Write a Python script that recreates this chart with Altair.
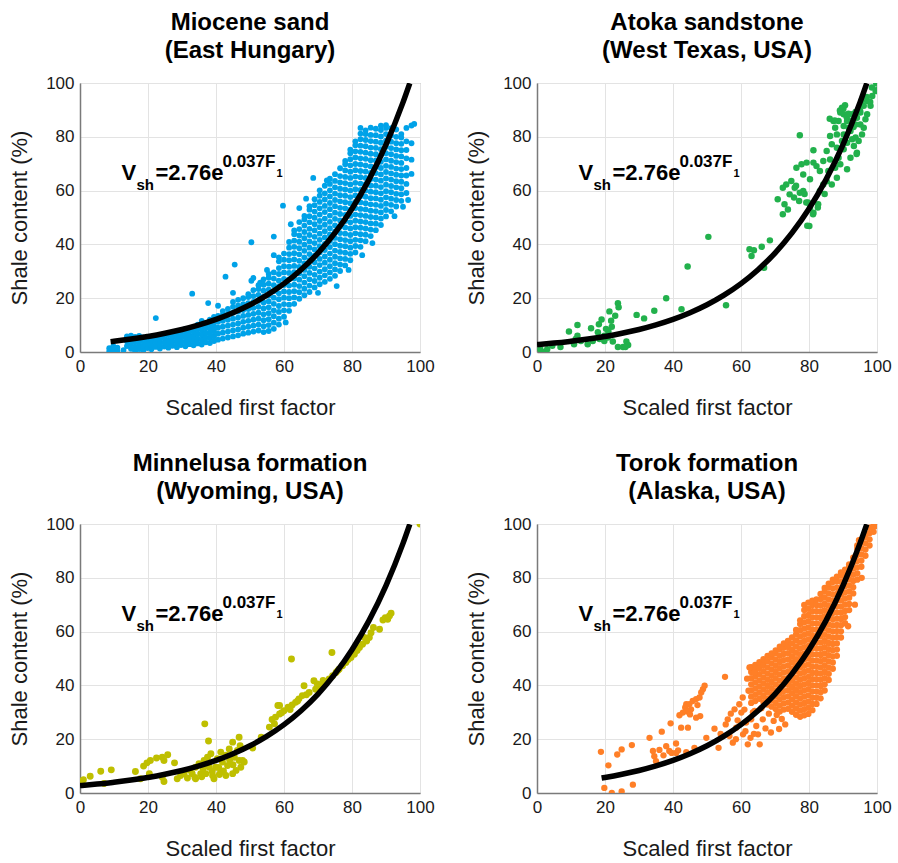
import altair as alt
import pandas as pd

FONT = "Liberation Sans"

# ---------------- data ----------------
# Fitted curve V = 2.76 exp(0.037 F) as drawn (F, V)
CURVE_F = [0, 5, 9, 10, 15, 19, 20, 25, 30, 35, 40, 45, 50, 55, 60, 65, 70, 75, 80, 85, 90, 95, 97]
CURVE_V = [2.76, 3.32, 3.85, 4.00, 4.81, 5.57, 5.78, 6.96, 8.37, 10.08, 12.12, 14.59, 17.55,
           21.12, 25.41, 30.58, 36.79, 44.27, 53.26, 64.09, 77.11, 92.78, 99.91]

# Miocene sand (East Hungary): columns of points (F, [V, ...])
MIOCENE_COLS = [
    (8.6, [0.2, 1.4]), (9.8, [0.8, 2.2]), (11.0, [1.6, 0.4]), (12.8, [0.7]),
    (13.8, [2.2, 4.0, 5.8]), (15.0, [1.2, 3.1, 5.0, 6.1]), (16.2, [0.3, 2.0, 3.9, 5.6]),
    (17.4, [1.1, 2.8, 4.6, 6.0]), (18.6, [0.6, 2.3, 4.0, 5.4]), (19.8, [1.5, 3.2, 4.9]),
    (21.0, [1.0, 2.6, 4.2, 5.7]), (22.3, [12.6, 1.9, 3.5, 5.1]), (23.5, [1.3, 2.9, 4.6, 6.2]),
    (24.8, [2.0, 3.6, 5.3]), (26.0, [1.6, 3.0, 4.5, 6.4]), (27.2, [2.3, 3.9, 5.6, 7.0]),
    (28.5, [1.8, 3.4, 5.0, 6.6]), (29.7, [2.6, 4.3, 6.0, 7.6]), (31.0, [2.1, 3.8, 5.5, 7.2, 8.6]),
    (32.2, [2.9, 4.6, 6.3, 8.0]), (33.0, [21.7]), (33.4, [2.5, 4.2, 5.9, 7.6, 9.2]),
    (34.6, [3.2, 5.0, 6.8, 8.6, 10.2]), (35.8, [2.8, 4.6, 6.4, 8.2, 9.8, 11.6]),
    (37.0, [3.6, 5.4, 7.2, 9.0, 10.6]), (37.7, [18.2]), (38.2, [3.3, 5.1, 6.9, 8.7, 10.5, 12.0]),
    (39.4, [4.1, 5.9, 7.7, 9.5, 11.3, 13.0]),
    (40.6, [4.6, 6.8, 9.0, 11.2, 13.4, 17.2]), (42.0, [5.0, 7.2, 9.4, 11.6, 13.8, 15.2]),
    (42.8, [28.0]), (43.5, [5.4, 7.6, 9.8, 12.0, 14.2, 16.0]),
    (45.0, [5.8, 8.0, 10.2, 12.4, 14.6, 16.8, 18.6, 22.0]), (45.5, [32.5]),
    (46.5, [6.2, 8.4, 10.6, 12.8, 15.0, 17.2, 19.4]),
    (48.0, [6.8, 9.0, 11.2, 13.4, 15.6, 17.8, 20.0]),
    (49.5, [7.2, 9.4, 11.6, 13.8, 16.0, 18.2, 20.4, 21.5]), (50.4, [40.8, 26.5]),
    (51.0, [7.6, 9.8, 12.0, 14.2, 16.4, 18.6, 20.8, 23.0, 27.5]),
    (52.5, [8.0, 10.2, 12.4, 14.6, 16.8, 19.0, 21.2, 23.4, 24.8]),
    (53.0, [25.8]),
    (54.0, [7.4, 9.6, 11.8, 14.0, 16.2, 18.4, 20.6, 22.8, 25.0, 27.0]),
    (55.0, [30.5]),
    (55.5, [7.8, 10.0, 12.2, 14.4, 16.6, 18.8, 21.0, 23.2, 25.4, 27.6, 29.0]),
    (57.0, [8.6, 10.9, 13.3, 15.5, 17.9, 20.2, 22.6, 24.8, 27.3, 29.6, 36.0, 42.9]),
    (58.5, [10.2, 12.4, 14.9, 17.1, 19.6, 21.8, 24.3, 26.5, 29.0, 31.2, 33.7, 35.2]),
    (59.7, [54.4]),
    (60.0, [13.1, 15.5, 17.8, 20.2, 22.5, 24.9, 27.2, 29.6, 31.9, 34.3, 36.6]),
    (60.5, [11.0]),
    (61.5, [15.3, 17.6, 20.0, 22.3, 24.7, 27.0, 29.4, 31.7, 34.1, 36.4, 38.8, 40.9]),
    (62.0, [47.5]),
    (63.0, [17.9, 20.3, 22.6, 25.0, 27.3, 29.7, 32.0, 34.4, 36.7, 39.1, 41.4, 43.8, 45.2]),
    (64.5, [19.8, 22.2, 24.5, 26.9, 29.2, 31.6, 33.9, 36.3, 38.6, 41.0, 43.3, 45.7, 48.3, 53.5]),
    (66.0, [21.1, 23.5, 25.8, 28.2, 30.5, 32.9, 35.2, 37.6, 39.9, 42.3, 44.6, 47.0, 49.3, 50.6]),
    (66.5, [57.0]),
    (67.5, [22.3, 24.7, 27.0, 29.4, 31.7, 34.1, 36.4, 38.8, 41.1, 43.5, 45.8, 48.2, 50.5, 52.9, 54.2]),
    (68.6, [64.7]),
    (69.0, [24.0, 26.4, 28.7, 31.1, 33.4, 35.8, 38.1, 40.5, 42.8, 45.2, 47.5, 49.9, 52.2, 54.6, 56.8]),
    (70.0, [22.0]),
    (70.5, [25.2, 27.6, 29.9, 32.3, 34.6, 37.0, 39.3, 41.7, 44.0, 46.4, 48.7, 51.1, 53.4, 55.8,
            58.1, 60.1]),
    (72.0, [26.1, 28.5, 30.8, 33.2, 35.5, 37.9, 40.2, 42.6, 44.9, 47.3, 49.6, 52.0, 54.3, 56.7,
            59.0, 61.8]),
    (72.6, [63.8]),
    (73.5, [27.2, 29.6, 31.9, 34.3, 36.6, 39.0, 41.3, 43.7, 46.0, 48.4, 50.7, 53.1, 55.4, 57.8,
            60.1, 62.5, 64.4]),
    (75.0, [28.3, 30.7, 33.0, 35.4, 37.7, 40.1, 42.4, 44.8, 47.1, 49.5, 51.8, 54.2, 56.5, 58.9,
            61.2, 63.6, 66.1]),
    (75.5, [24.5]),
    (76.5, [30.1, 32.5, 34.8, 37.2, 39.5, 41.9, 44.2, 46.6, 48.9, 51.3, 53.6, 56.0, 58.3, 60.7,
            63.0, 65.4, 68.3]),
    (78.0, [32.2, 34.6, 36.9, 39.3, 41.6, 44.0, 46.3, 48.7, 51.0, 53.4, 55.7, 58.1, 60.4, 62.8,
            65.1, 67.5, 69.8, 71.0]),
    (79.0, [30.5]),
    (79.5, [34.1, 36.5, 38.8, 41.2, 43.5, 45.9, 48.2, 50.6, 52.9, 55.3, 57.6, 60.0, 62.3, 64.7,
            67.0, 69.4, 71.7, 73.9, 75.2]),
    (81.0, [37.0, 39.4, 41.7, 44.1, 46.4, 48.8, 51.1, 53.5, 55.8, 58.2, 60.5, 62.9, 65.2, 67.6,
            69.9, 72.3, 74.6, 76.9, 78.3]),
    (82.5, [39.1, 41.5, 43.8, 46.2, 48.5, 50.9, 53.2, 55.6, 57.9, 60.3, 62.6, 65.0, 67.3, 69.7,
            72.0, 74.4, 76.7, 79.1, 81.2, 83.3]),
    (83.0, [36.0]),
    (84.0, [41.2, 43.6, 45.9, 48.3, 50.6, 53.0, 55.3, 57.7, 60.0, 62.4, 64.7, 67.1, 69.4, 71.8,
            74.1, 76.5, 78.8, 81.0, 82.4]),
    (85.5, [43.1, 45.5, 47.8, 50.2, 52.5, 54.9, 57.2, 59.6, 61.9, 64.3, 66.6, 69.0, 71.3, 73.7,
            76.0, 78.4, 80.7, 83.4]),
    (86.0, [40.5]),
    (87.0, [45.3, 47.7, 50.0, 52.4, 54.7, 57.1, 59.4, 61.8, 64.1, 66.5, 68.8, 71.2, 73.5, 75.9,
            78.2, 80.6, 83.0]),
    (88.5, [47.2, 49.6, 51.9, 54.3, 56.6, 59.0, 61.3, 63.7, 66.0, 68.4, 70.7, 73.1, 75.4, 77.8,
            80.1, 82.5, 84.1]),
    (90.0, [50.4, 52.8, 55.1, 57.5, 59.8, 62.2, 64.5, 66.9, 69.2, 71.6, 73.9, 76.3, 78.6, 81.0,
            83.3, 84.3]),
    (91.5, [52.3, 54.7, 57.0, 59.4, 61.7, 64.1, 66.4, 68.8, 71.1, 73.5, 75.8, 78.2, 80.5, 83.2]),
    (92.5, [50.5]),
    (93.0, [54.1, 56.5, 58.8, 61.2, 63.5, 65.9, 68.2, 70.6, 72.9, 75.3, 77.6, 80.0, 82.7]),
    (94.5, [56.2, 58.6, 60.9, 63.3, 65.6, 68.0, 70.3, 72.7, 75.0, 77.4, 79.7, 81.0]),
    (95.0, [54.0]),
    (96.0, [59.1, 62.5, 65.6, 68.4, 72.0, 75.1, 78.3, 83.3]), (96.5, [56.5]),
    (97.5, [66.2, 71.5, 77.6, 84.2]), (98.3, [84.8]),
]

# Atoka sandstone (West Texas, USA): individual points
ATOKA_F = [1.0, 3.0, 1.5, 4.5, 6.9, 9.4, 11.9, 11.9, 10.9, 15.9, 18.2, 19.0, 21.3, 21.8, 23.8, 24.0,
           23.0, 22.0, 21.0, 19.8, 18.4, 19.8, 22.3, 23.8, 25.3, 26.3, 26.8, 26.0, 14.9, 16.4,
           12.9, 11.4, 17.9, 20.3, 20.8, 29.3, 31.5, 34.5, 38.0, 42.5, 44.3, 50.4, 55.6,
           62.5, 63.1, 63.8, 66.1, 68.5, 66.8,
           77.3, 81.3, 89.7, 90.2, 88.7, 87.2, 87.7, 86.2, 86.7, 90.2, 92.2, 93.2, 94.1, 95.1, 97.1,
           97.1, 98.1, 99.6, 98.6, 96.1, 95.6, 92.2, 89.2, 91.2, 88.2, 86.7, 85.2, 83.2, 84.2, 81.3,
           79.3, 77.8, 76.3, 78.3, 80.3, 82.2, 74.8, 73.3, 75.8, 77.3, 74.3, 72.3, 70.8, 75.6, 77.1,
           78.3, 72.8, 73.8, 72.3, 80.3, 81.3, 80.1, 83.2, 82.7, 84.2, 85.7, 87.7, 88.7, 90.2, 91.2,
           92.7, 93.7, 94.6, 94.1, 95.1, 92.7, 91.2, 89.2, 88.2, 85.2, 86.2, 88.2, 89.7, 91.7, 90.2,
           96.1, 96.6, 93.7, 99.8, 99.8, 98.5, 94.0, 93.1, 93.7, 90.6, 91.6, 86.1, 87.6, 89.1, 90.1,
           91.1, 92.6, 95.0, 95.5, 97.0, 98.0, 79.5, 81.2, 82.6, 84.6, 79.7, 76.2, 78.7, 79.2]
ATOKA_V = [1.0, 1.0, 0.0, 2.3, 1.9, 7.6, 10.0, 6.0, 2.9, 8.8, 10.3, 12.1, 15.1, 11.6, 18.1, 16.6,
           13.5, 9.4, 7.6, 6.0, 4.8, 4.1, 3.9, 1.9, 1.9, 3.9, 2.6, 1.9, 2.9, 4.1,
           4.1, 4.8, 7.3, 8.6, 5.4, 13.8, 12.5, 15.3, 20.0, 15.9, 31.8, 42.8, 17.4,
           38.2, 35.7, 37.8, 39.1, 41.5, 31.3,
           80.6, 75.0, 90.8, 88.4, 85.9, 85.9, 83.4, 80.3, 77.2, 80.9, 82.2, 76.6, 74.1, 84.6, 88.4,
           93.3, 91.5, 97.0, 95.2, 91.5, 80.9, 72.2, 69.8, 67.9, 64.8, 62.3, 63.5, 67.3, 71.0, 70.4,
           70.4, 69.8, 68.5, 66.0, 64.2, 69.1, 63.6, 62.3, 61.1, 59.2, 58.6, 61.1, 56.8, 57.4, 56.1,
           59.9, 54.9, 53.0, 51.2, 53.6, 51.8, 46.8, 59.9, 54.9, 62.3, 67.3, 68.5, 72.2, 75.4, 77.8,
           79.1, 79.7, 78.4, 87.1, 89.0, 88.4, 85.9, 89.0, 80.9, 74.7, 71.6, 75.9, 78.4, 83.4, 84.0,
           83.4, 86.5, 84.6, 99.8, 97.3, 98.3, 73.6, 83.6, 89.2, 91.7, 88.6, 86.7, 86.1, 89.8, 90.4,
           87.3, 86.1, 89.8, 93.5, 94.8, 92.9, 46.9, 51.2, 53.7, 58.7, 55.6, 61.8, 58.7, 55.6]

# Minnelusa formation (Wyoming, USA): individual points
MINNE_F = [0.2, 1.0, 3.0, 6.1, 9.2, 7.1, 16.3, 18.7, 19.7, 20.7, 22.5, 24.2, 25.8, 24.7, 27.8, 20.4,
           17.8, 24.7, 24.2, 28.6, 29.6, 31.6, 33.0, 34.0, 35.0, 35.5, 36.7, 37.8, 36.5, 37.5, 38.5,
           38.0, 37.0, 39.0, 39.9, 40.4, 41.4, 41.9, 41.4, 42.9, 43.4, 43.9, 44.9, 45.4, 45.9, 46.8,
           47.1, 46.8, 47.8, 47.3, 48.3, 44.9, 39.4, 34.0, 30.6, 32.3, 36.2, 40.8, 42.2, 44.0, 45.0,
           33.8, 38.9, 43.0, 46.3, 35.8, 41.0,
           50.8, 53.3, 55.7, 57.2, 58.2, 56.5, 57.5, 58.7, 58.7, 60.0, 61.2, 62.4, 63.4, 64.4, 65.4,
           65.9, 67.4, 68.8, 69.3, 70.8, 72.3, 73.3, 74.3, 75.3, 76.2, 77.2, 78.2, 79.7, 80.7, 82.2,
           83.1, 83.6, 85.1, 85.6, 86.3, 88.1, 89.1, 89.8, 90.5, 91.0, 91.5, 62.2, 74.1, 100.0,
           59.3, 61.8, 64.0, 66.6, 69.8, 71.5, 75.8, 78.9, 81.5, 84.3]
MINNE_V = [4.3, 4.9, 6.2, 8.1, 8.6, 3.5, 8.0, 10.0, 11.2, 12.1, 13.0, 13.3, 14.2, 12.1, 11.2, 7.2,
           5.3, 4.3, 5.9, 5.3, 6.5, 5.6, 7.2, 9.6, 10.9, 7.2, 25.7, 19.3, 12.1, 13.3, 14.6,
           9.6, 7.2, 6.5, 9.6, 12.7, 15.2, 11.5, 7.8, 6.5, 10.2, 16.4, 18.9, 13.3, 8.4, 20.7,
           17.6, 12.1, 12.1, 9.6, 11.5, 7.2, 5.3, 5.3, 7.2, 8.5, 9.0, 9.5, 8.2, 12.3, 10.5,
           5.8, 8.0, 14.0, 15.8, 6.0, 6.9,
           16.7, 20.7, 24.5, 25.7, 32.5, 27.3, 28.2, 32.5, 29.4, 30.6, 31.9, 32.7, 33.7, 35.0, 36.2,
           39.9, 37.4, 41.7, 38.6, 39.9, 41.1, 42.4, 43.6, 44.8, 46.0, 47.3, 48.5, 50.4, 51.6, 54.1,
           55.3, 57.8, 57.8, 59.6, 61.5, 60.9, 64.3, 65.2, 64.6, 65.8, 66.8, 49.8, 52.2, 100.0,
           29.8, 31.0, 34.2, 36.5, 40.5, 41.8, 45.5, 49.6, 53.0, 56.5]

# Torok formation (Alaska, USA): dense columns (F, [V, ...]) plus scattered points
TOROK_COLS = [
    (63.0, [33.5, 35.8, 38.1, 40.4, 42.7, 45.0, 46.8]),
    (64.2, [34.2, 36.5, 38.8, 41.1, 43.4, 45.7, 47.6]),
    (65.4, [35.0, 37.3, 39.6, 41.9, 44.2, 46.5, 48.6]),
    (66.6, [33.8, 36.1, 38.4, 40.7, 43.0, 45.3, 47.6, 49.8]),
    (67.8, [32.9, 35.2, 37.5, 39.8, 42.1, 44.4, 46.7, 49.0, 51.0]),
    (69.0, [32.1, 34.4, 36.7, 39.0, 41.3, 43.6, 45.9, 48.2, 50.5, 51.9]),
    (70.2, [31.2, 33.5, 35.8, 38.1, 40.4, 42.7, 45.0, 47.3, 49.6, 51.9, 53.0]),
    (71.4, [30.3, 32.6, 34.9, 37.2, 39.5, 41.8, 44.1, 46.4, 48.7, 51.0, 53.3, 54.4]),
    (72.6, [31.0, 33.3, 35.6, 37.9, 40.2, 42.5, 44.8, 47.1, 49.4, 51.7, 54.0, 55.6]),
    (73.8, [31.3, 33.6, 35.9, 38.2, 40.5, 42.8, 45.1, 47.4, 49.7, 52.0, 54.3, 56.5]),
    (75.0, [30.2, 32.5, 34.8, 37.1, 39.4, 41.7, 44.0, 46.3, 48.6, 50.9, 53.2, 55.5, 57.8]),
    (76.2, [29.1, 31.4, 33.7, 36.0, 38.3, 40.6, 42.9, 45.2, 47.5, 49.8, 52.1, 54.4, 56.7, 59.0, 60.6]),
    (77.4, [28.3, 30.6, 32.9, 35.2, 37.5, 39.8, 42.1, 44.4, 46.7, 49.0, 51.3, 53.6, 55.9, 58.2,
            60.5, 62.8, 64.2]),
    (78.6, [28.9, 31.2, 33.5, 35.8, 38.1, 40.4, 42.7, 45.0, 47.3, 49.6, 51.9, 54.2, 56.5, 58.8,
            61.1, 63.4, 65.7, 68.0, 69.9]),
    (79.8, [29.4, 31.7, 34.0, 36.3, 38.6, 40.9, 43.2, 45.5, 47.8, 50.1, 52.4, 54.7, 57.0, 59.3,
            61.6, 63.9, 66.2, 68.5, 70.8]),
    (81.0, [30.8, 33.1, 35.4, 37.7, 40.0, 42.3, 44.6, 46.9, 49.2, 51.5, 53.8, 56.1, 58.4, 60.7,
            63.0, 65.3, 67.6, 69.9, 71.5]),
    (82.2, [33.1, 35.4, 37.7, 40.0, 42.3, 44.6, 46.9, 49.2, 51.5, 53.8, 56.1, 58.4, 60.7, 63.0,
            65.3, 67.6, 69.9, 72.0]),
    (83.4, [35.2, 37.5, 39.8, 42.1, 44.4, 46.7, 49.0, 51.3, 53.6, 55.9, 58.2, 60.5, 62.8, 65.1,
            67.4, 69.7, 72.0, 74.0]),
    (84.6, [38.1, 40.4, 42.7, 45.0, 47.3, 49.6, 51.9, 54.2, 56.5, 58.8, 61.1, 63.4, 65.7, 68.0,
            70.3, 72.6, 74.9, 76.2]),
    (85.8, [42.0, 44.3, 46.6, 48.9, 51.2, 53.5, 55.8, 58.1, 60.4, 62.7, 65.0, 67.3, 69.6, 71.9,
            74.2, 76.5, 77.8]),
    (87.0, [46.2, 48.5, 50.8, 53.1, 55.4, 57.7, 60.0, 62.3, 64.6, 66.9, 69.2, 71.5, 73.8, 76.1,
            78.4, 79.3]),
    (88.2, [51.0, 53.3, 55.6, 57.9, 60.2, 62.5, 64.8, 67.1, 69.4, 71.7, 74.0, 76.3, 78.6, 80.4]),
    (89.4, [57.8, 60.1, 62.4, 64.7, 67.0, 69.3, 71.6, 73.9, 76.2, 78.5, 80.8, 82.0]),
    (90.6, [63.1, 65.4, 67.7, 70.0, 72.3, 74.6, 76.9, 79.2, 81.5, 83.0]),
    (91.8, [68.0, 70.3, 72.6, 74.9, 77.2, 79.5, 81.8, 84.1, 85.0]),
    (93.0, [74.2, 76.5, 78.8, 81.1, 83.4, 85.7, 87.5]),
    (94.2, [79.3, 81.6, 83.9, 86.2, 88.5, 90.8, 92.0]),
    (95.4, [84.1, 86.4, 88.7, 91.0, 93.3, 94.2]),
    (96.6, [88.2, 90.5, 92.8, 95.1, 96.2]),
    (97.8, [92.0, 94.3, 96.6, 98.6]), (99.0, [97.1, 99.0, 99.8]), (99.8, [99.2]),
]
TOROK_F = [18.8, 21.0, 19.8, 22.0, 23.6, 24.9, 24.9, 27.9, 28.2,
           33.1, 34.1, 34.5, 35.0, 36.7, 38.0, 38.9, 39.3, 39.6, 40.9, 40.9, 41.9, 42.4, 43.6, 43.9,
           44.8, 45.3, 45.8, 46.8, 46.8, 47.8, 48.3, 48.8, 49.3, 44.4, 46.3, 49.8, 52.2, 53.4, 55.3,
           44.2, 45.0, 47.2, 48.0, 42.9, 36.0, 37.2, 41.5, 43.9,
           56.1, 56.6, 57.6, 58.1, 58.6, 60.1, 60.6, 61.5, 62.0, 62.5, 63.0, 62.8, 64.0, 64.5, 65.0,
           65.5, 66.4, 67.2, 68.2, 68.8, 69.6, 70.5, 71.2, 72.0, 73.0, 61.8, 62.2, 60.5, 59.5, 61.0,
           64.0, 63.5, 66.0, 57.0, 59.0, 55.5, 54.0, 58.5, 61.3, 63.8, 91.5, 93.5, 95.5, 94.7]
TOROK_V = [15.3, 10.3, 1.9, 0.0, 14.3, 16.2, 0.6, 17.8, 3.1,
           20.5, 15.6, 13.7, 11.8, 22.8, 17.4, 15.6, 25.9, 14.9, 14.9, 18.4, 28.9, 24.3, 31.8, 33.0,
           33.0, 31.1, 34.2, 34.9, 28.0, 35.5, 37.4, 38.6, 39.9, 24.3, 16.8, 20.5, 23.9, 16.8, 43.2,
           30.3, 29.2, 32.7, 28.6, 29.9, 16.0, 14.0, 15.8, 15.2,
           27.4, 21.2, 18.7, 31.1, 24.3, 29.9, 21.8, 26.2, 18.1, 46.7, 27.4, 20.5, 30.5, 24.9, 21.8,
           18.1, 27.4, 24.0, 29.5, 22.5, 26.8, 29.0, 23.8, 27.5, 25.5, 42.5, 38.0, 35.5, 33.0, 31.0,
           44.8, 30.0, 31.5, 29.5, 27.0, 25.5, 22.0, 20.0, 23.0, 22.0, 62.0, 70.0, 80.0, 94.0]

PANELS = [
    (["Miocene sand", "(East Hungary)"], "#00A2E8", 34, 9),
    (["Atoka sandstone", "(West Texas, USA)"], "#22B14C", 42, 0),
    (["Minnelusa formation", "(Wyoming, USA)"], "#BFBF00", 48, 0),
    (["Torok formation", "(Alaska, USA)"], "#FF7F27", 40, 19),
]

# equation label pieces: (text, font size, dx, dy)
EQ_PIECES = [("V", 22, 0, 0), ("sh", 15, 15, 10), ("=2.76e", 22, 34, 0),
             ("0.037F", 17, 101, -13), ("1", 11, 155, -3)]
EQ_X, EQ_Y = 12.2, 64.0


def cols_to_df(cols=None, fs=None, vs=None):
    xs, ys = [], []
    if cols:
        for f, vals in cols:
            for v in vals:
                xs.append(f)
                ys.append(v)
    if fs:
        xs += list(fs)
        ys += list(vs)
    return pd.DataFrame({"F": xs, "V": ys})


datasets = [
    cols_to_df(cols=MIOCENE_COLS),
    cols_to_df(fs=ATOKA_F, vs=ATOKA_V),
    cols_to_df(fs=MINNE_F, vs=MINNE_V),
    cols_to_df(cols=TOROK_COLS, fs=TOROK_F, vs=TOROK_V),
]

TICKS = [0, 20, 40, 60, 80, 100]
xscale = alt.Scale(domain=[0, 100], nice=False, zero=False)
yscale = alt.Scale(domain=[0, 100], nice=False, zero=False)

AXIS_STYLE = dict(labelFont=FONT, titleFont=FONT, labelFontSize=17, titleFontSize=22,
                  titleFontWeight="normal", labelColor="#1a1a1a", titleColor="#1a1a1a",
                  grid=True, gridColor="#e3e3e3", gridWidth=1, domainColor="#7a7a7a",
                  domainWidth=1.5, ticks=False, values=TICKS)


def panel(title, df, color, size, fstart):
    xenc = alt.X("F:Q", scale=xscale,
                 axis=alt.Axis(title="Scaled first factor", labelFlush=False,
                               titlePadding=23, labelPadding=6, **AXIS_STYLE))
    yenc = alt.Y("V:Q", scale=yscale,
                 axis=alt.Axis(title="Shale content (%)", titlePadding=14,
                               labelPadding=6, **AXIS_STYLE))
    pts = alt.Chart(df).mark_circle(color=color, size=size, opacity=1, clip=True).encode(x=xenc, y=yenc)
    cdf = pd.DataFrame({"F": CURVE_F, "V": CURVE_V})
    cdf = cdf[cdf["F"] >= fstart]
    curve = alt.Chart(cdf).mark_line(color="black", strokeWidth=5.5, interpolate="monotone",
                                     clip=True).encode(x="F:Q", y="V:Q")
    texts = []
    for t, fsz, dx, dy in EQ_PIECES:
        texts.append(
            alt.Chart().mark_text(text=t, fontSize=fsz, fontWeight="bold", font=FONT,
                                  align="left", baseline="alphabetic", dx=dx, dy=dy,
                                  color="black").encode(x=alt.datum(EQ_X), y=alt.datum(EQ_Y))
        )
    return alt.layer(pts, curve, *texts).properties(
        width=340, height=269,
        title=alt.TitleParams(text=title, fontSize=24, fontWeight="bold", font=FONT,
                              anchor="middle", lineHeight=28, offset=11, color="black"),
    )


charts = [panel(t, d, c, s, f) for (t, c, s, f), d in zip(PANELS, datasets)]

chart = alt.vconcat(
    alt.hconcat(charts[0], charts[1], spacing=30),
    alt.hconcat(charts[2], charts[3], spacing=30),
    spacing=32,
).properties(
    padding={"left": 8, "top": 10, "right": 0, "bottom": 0},
    background="white",
).configure_view(
    stroke="#9a9a9a", strokeWidth=1
)

chart.save("out.html", embed_options={"renderer": "svg", "actions": False})
